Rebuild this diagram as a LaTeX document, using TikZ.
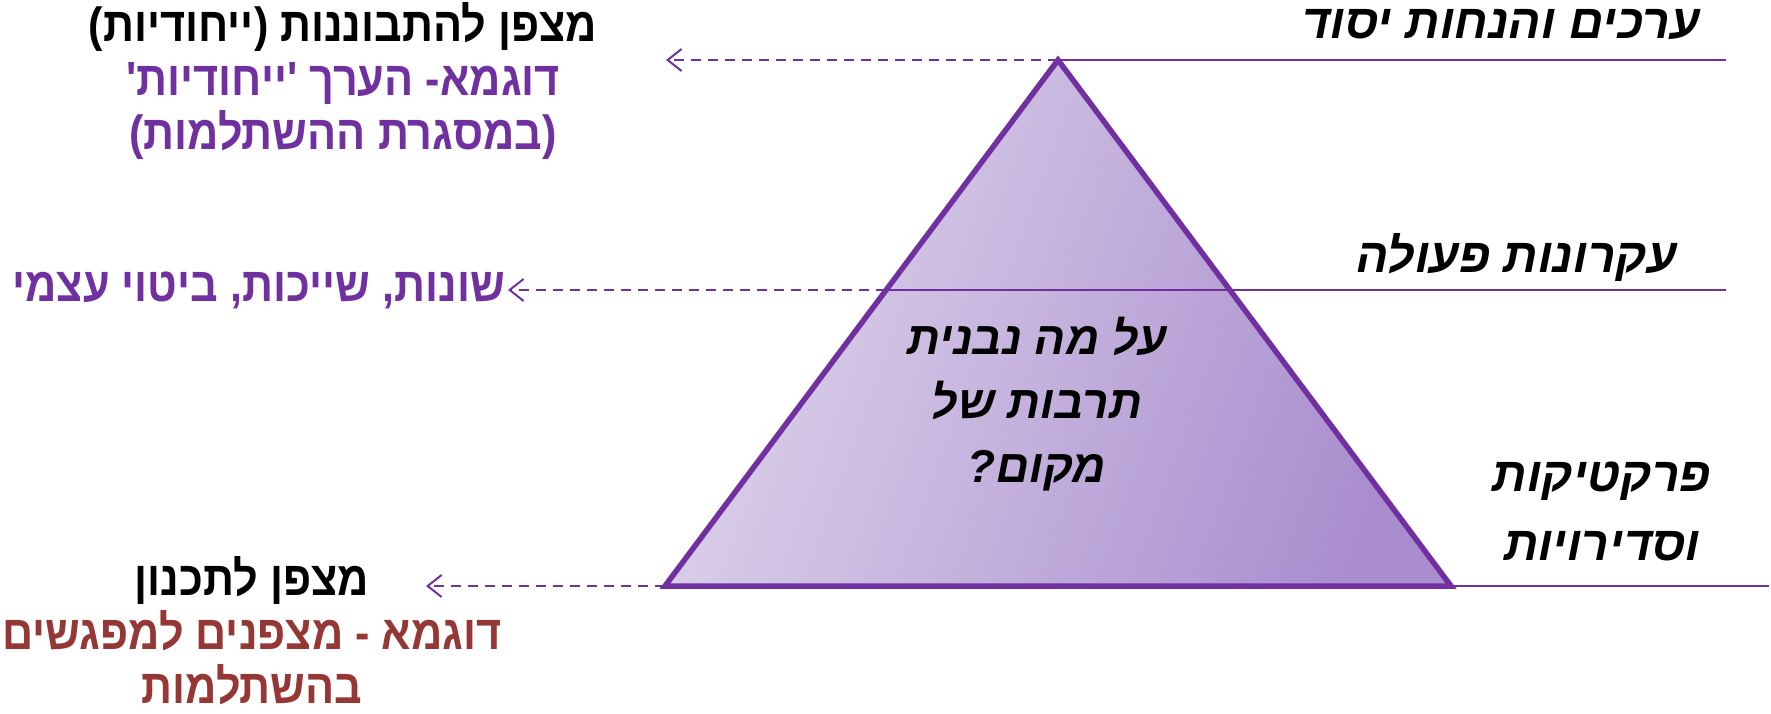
\documentclass[tikz,border=0pt]{standalone}
\usepackage{fontspec}
\usetikzlibrary{arrows.meta}
\TeXXeTstate=1
\newfontfamily\hebb[Script=Hebrew]{Liberation Sans}
\newfontfamily\hebc[Script=Hebrew,FakeStretch=0.9]{Liberation Sans}
\definecolor{purp}{HTML}{7030A0}
\definecolor{redd}{HTML}{953735}
\definecolor{trilight}{HTML}{DED5EB}
\definecolor{tridark}{HTML}{A98DCE}
\begin{document}
\begin{tikzpicture}[x=1pt,y=-1pt,
  hline/.style={purp, line width=2.3pt},
  dline/.style={purp, line width=2pt, dash pattern=on 10pt off 7pt,
     -{Straight Barb[length=14pt,width=22pt,line width=2pt]}},
  rlab/.style={font=\hebb\bfseries\itshape\fontsize{48}{69}\selectfont, inner sep=0pt, align=center},
  llab/.style={font=\hebc\bfseries\fontsize{48}{54}\selectfont, inner sep=0pt, align=center}]
\useasboundingbox (0,0) rectangle (1771,714);
\coordinate (A) at (1058,60);
\coordinate (B) at (665,586);
\coordinate (C) at (1451,586);
\coordinate (Ar) at (1726,60);
\coordinate (ML) at (886,290);
\coordinate (MR) at (1726,290);
\coordinate (Cr) at (1769,586);
\coordinate (At) at (666,60);
\coordinate (Mt) at (508,290);
\coordinate (Bt) at (426,586);
\shade[left color=trilight, right color=tridark, shading angle=70] (A) -- (B) -- (C) -- cycle;
\draw[hline] (A) -- (Ar);
\draw[hline] (ML) -- (MR);
\draw[hline] (C) -- (Cr);
\draw[purp, line width=5.5pt, line join=miter] (A) -- (B) -- (C) -- cycle;
\draw[dline] (A) -- (At);
\draw[dline] (ML) -- (Mt);
\draw[dline] (B) -- (Bt);
% right labels
\node[rlab, anchor=east] (t1) at (1700,25) {\beginR ערכים והנחות יסוד\endR};
\node[rlab, anchor=east] (t2) at (1677,257) {\beginR עקרונות פעולה\endR};
\node[rlab] (t3) at (1602,511) {\beginR פרקטיקות\endR\\\beginR וסדירויות\endR};
\node[rlab, font=\hebb\bfseries\itshape\fontsize{46}{64}\selectfont] (tc) at (1037,404) {\beginR על מה נבנית\endR\\\beginR תרבות של\endR\\\beginR מקום?\endR};
% left labels
\node[llab] (l1) at (343,81) {\beginR מצפן להתבוננות (ייחודיות)\endR\\\color{purp}\beginR דוגמא- הערך 'ייחודיות'\endR\\\color{purp}\beginR (במסגרת ההשתלמות)\endR};
\node[llab, anchor=east, text=purp] (l2) at (505,290) {\beginR שונות, שייכות, ביטוי עצמי\endR};
\node[llab] (l3) at (252,631) {\beginR מצפן לתכנון\endR\\\color{redd}\beginR דוגמא - מצפנים למפגשים\endR\\\color{redd}\beginR בהשתלמות\endR};
\end{tikzpicture}
\end{document}
